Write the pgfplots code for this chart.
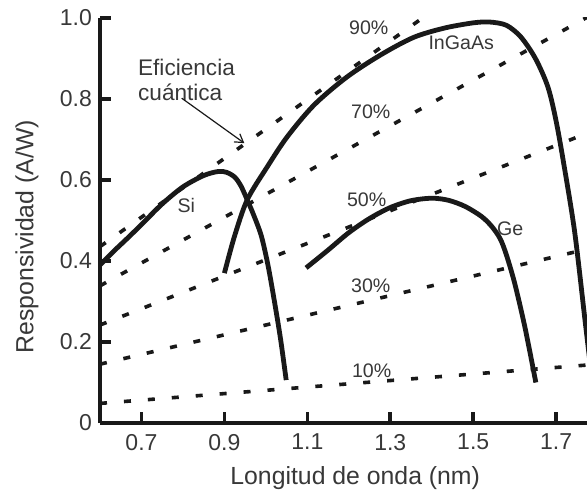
\documentclass[border=0pt]{standalone}
\usepackage{fontspec}
\setmainfont{Liberation Sans}
\usepackage{pgfplots}
\pgfplotsset{compat=1.18}
\usetikzlibrary{arrows.meta}
\definecolor{txt}{gray}{0.22}
\definecolor{ln}{gray}{0.1}
\begin{document}
\begin{tikzpicture}
\begin{axis}[
  scale only axis,
  width=243.5pt, height=202.5pt,
  xmin=0.6, xmax=1.7744, ymin=0, ymax=1.0,
  axis x line=bottom, axis y line=left,
  axis line style={-, line width=2.2pt, ln},
  xtick={0.7,0.9,1.1,1.3,1.5,1.7},
  xticklabels={0.7,0.9,1.1,1.3,1.5,1.7},
  ytick={0,0.2,0.4,0.6,0.8,1.0},
  yticklabels={0,0.2,0.4,0.6,0.8,1.0},
  tick align=inside,
  major tick length=5.5pt,
  tick style={line width=1.8pt, ln},
  /pgf/number format/assume math mode=true,
  ticklabel style={font=\fontsize{11.5}{13}\selectfont, text=txt},
  xticklabel style={yshift=-2pt},
  yticklabel style={xshift=-0.5pt},
  xlabel={Longitud de onda (nm)},
  ylabel={Responsividad (A/W)},
  label style={font=\fontsize{12.4}{14}\selectfont, text=txt},
  xlabel style={at={(axis description cs:0.524,-0.136)}, anchor=center},
  ylabel style={at={(axis description cs:-0.15,0.46)}, anchor=center},
  clip=true,
]
% quantum efficiency lines (10%, 30%, 50%, 70%, 90%)
\addplot[ln, line width=1.8pt, dash pattern=on 3.5pt off 8.5pt] coordinates {(0.6,0.0484) (1.8,0.1452)};
\addplot[ln, line width=1.8pt, dash pattern=on 3.5pt off 8.5pt] coordinates {(0.6,0.1452) (1.8,0.4355)};
\addplot[ln, line width=1.8pt, dash pattern=on 3.5pt off 8.5pt] coordinates {(0.6,0.2419) (1.8,0.7258)};
\addplot[ln, line width=1.8pt, dash pattern=on 3.5pt off 8.5pt] coordinates {(0.6,0.3387) (1.8,1.0161)};
\addplot[ln, line width=1.8pt, dash pattern=on 3.5pt off 8.5pt] coordinates {(0.6,0.4355) (1.8,1.3065)};
% Si
\addplot[ln, line width=2.4pt, smooth, tension=0.5] coordinates {
(0.6,0.39) (0.633,0.424) (0.667,0.457) (0.70,0.49) (0.749,0.540) (0.80,0.583)
(0.85,0.611) (0.885,0.621) (0.905,0.619) (0.925,0.607) (0.94,0.585) (0.955,0.551)
(0.97,0.515) (0.989,0.462) (1.005,0.39) (1.02,0.304) (1.035,0.21) (1.049,0.106)};
% InGaAs
\addplot[ln, line width=2.4pt, smooth, tension=0.5] coordinates {
(0.9,0.37) (0.924,0.46) (0.955,0.551) (1.003,0.632) (1.051,0.706) (1.116,0.785)
(1.195,0.854) (1.277,0.909) (1.356,0.952) (1.43,0.975) (1.50,0.988) (1.54,0.990)
(1.58,0.982) (1.615,0.953) (1.65,0.90) (1.68,0.83) (1.70,0.745) (1.72,0.63)
(1.745,0.469) (1.77,0.25) (1.785,0.12)};
% Ge
\addplot[ln, line width=2.4pt, smooth, tension=0.5] coordinates {
(1.097,0.383) (1.15,0.427) (1.20,0.470) (1.25,0.505) (1.30,0.532) (1.35,0.549)
(1.40,0.555) (1.44,0.550) (1.48,0.535) (1.52,0.510) (1.545,0.485) (1.565,0.455)
(1.58,0.415) (1.60,0.345) (1.625,0.235) (1.651,0.10)};
% labels
\begin{scope}[every node/.style={text=txt, font=\fontsize{9.8}{12}\selectfont, inner sep=0pt}]
\node at (axis cs:1.248,0.975) {90\%};
\node at (axis cs:1.471,0.94) {InGaAs};
\node at (axis cs:1.253,0.768) {70\%};
\node at (axis cs:1.243,0.55) {50\%};
\node at (axis cs:1.589,0.48) {Ge};
\node at (axis cs:1.253,0.34) {30\%};
\node at (axis cs:1.255,0.13) {10\%};
\node at (axis cs:0.808,0.538) {Si};
\end{scope}
\node[text=txt, font=\fontsize{11.3}{12.4}\selectfont, align=left, anchor=west, inner sep=0pt] at (axis cs:0.691,0.848) {Eficiencia\\cuántica};
\draw[ln, line width=0.6pt, -{Straight Barb[length=4pt,width=5pt]}] (axis cs:0.797,0.802) -- (axis cs:0.948,0.691);
\end{axis}
\pgfresetboundingbox
\path (-50pt,-34.5pt) rectangle (243.5pt,211.5pt);
\end{tikzpicture}
\end{document}
